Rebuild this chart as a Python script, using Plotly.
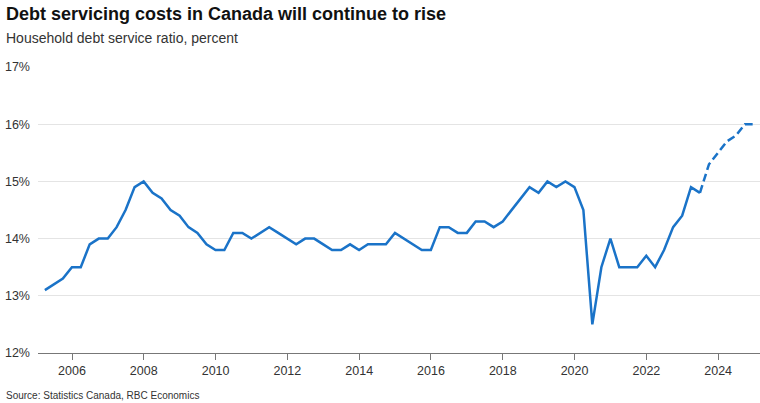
import pandas as pd
import plotly.graph_objects as go

# Household debt service ratio (percent), quarterly, 2005Q1 - 2024Q4
quarters = pd.date_range("2005-03-31", periods=80, freq="QE")

actual_ratio = [
    13.1, 13.2, 13.3, 13.5, 13.5, 13.9, 14.0, 14.0,   # 2005-2006
    14.2, 14.5, 14.9, 15.0, 14.8, 14.7, 14.5, 14.4,   # 2007-2008
    14.2, 14.1, 13.9, 13.8, 13.8, 14.1, 14.1, 14.0,   # 2009-2010
    14.1, 14.2, 14.1, 14.0, 13.9, 14.0, 14.0, 13.9,   # 2011-2012
    13.8, 13.8, 13.9, 13.8, 13.9, 13.9, 13.9, 14.1,   # 2013-2014
    14.0, 13.9, 13.8, 13.8, 14.2, 14.2, 14.1, 14.1,   # 2015-2016
    14.3, 14.3, 14.2, 14.3, 14.5, 14.7, 14.9, 14.8,   # 2017-2018
    15.0, 14.9, 15.0, 14.9, 14.5, 12.5, 13.5, 14.0,   # 2019-2020
    13.5, 13.5, 13.5, 13.7, 13.5, 13.8, 14.2, 14.4,   # 2021-2022
    14.9, 14.8,                                        # 2023H1
]
forecast_ratio = [15.3, 15.5, 15.7, 15.8, 16.0, 16.0]  # 2023Q3 - 2024Q4

year_ticks = list(range(2006, 2025, 2))
y_ticks = [12, 13, 14, 15, 16, 17]

title_text = "<b>Debt servicing costs in Canada will continue to rise</b>"
subtitle_text = "Household debt service ratio, percent"
source_text = "Source: Statistics Canada, RBC Economics"

LINE = "#1a73c8"
FONT = "Liberation Sans, Arial, sans-serif"

n_act = len(actual_ratio)
x_act = quarters[:n_act]
# forecast segment starts from the last actual observation
x_fc = quarters[n_act - 1:n_act + len(forecast_ratio)]
y_fc = [actual_ratio[-1]] + forecast_ratio

fig = go.Figure()
fig.add_trace(go.Scatter(
    x=x_act, y=actual_ratio, mode="lines",
    line=dict(color=LINE, width=2.5), showlegend=False,
))
fig.add_trace(go.Scatter(
    x=x_fc, y=y_fc, mode="lines",
    line=dict(color=LINE, width=2.5, dash="8px,4px"), showlegend=False,
))

L, R, T, B = 38, 0, 67, 50
W, H = 760, 403
ph = H - T - B
pw = W - L - R


def py(ypx):
    return (H - B - ypx) / ph


def px(xpx):
    return (xpx - L) / pw


fig.update_layout(
    width=W, height=H,
    margin=dict(l=L, r=R, t=T, b=B),
    paper_bgcolor="white", plot_bgcolor="white",
    font=dict(family=FONT, color="#333333", size=13),
    xaxis=dict(
        type="date",
        range=["2005-01-20", "2025-03-02"],
        tickvals=[f"{y}-01-01" for y in year_ticks],
        ticktext=[str(y) for y in year_ticks],
        showgrid=False, zeroline=False,
        showline=True, linecolor="#777777", linewidth=1,
        ticks="outside", ticklen=6, tickcolor="#777777", tickwidth=1,
        tickfont=dict(size=12.5, color="#333333"),
    ),
    yaxis=dict(
        range=[12, 17],
        tickvals=y_ticks,
        ticktext=[f"{v}%" for v in y_ticks],
        showgrid=True, gridcolor="#e4e4e4", gridwidth=1,
        zeroline=False, showline=False, ticks="",
        ticklabelstandoff=7,
        tickfont=dict(size=12.5, color="#333333"),
    ),
    annotations=[
        dict(text=title_text, xref="paper", yref="paper",
             x=px(4), y=py(14), xanchor="left", yanchor="middle",
             showarrow=False, font=dict(size=18, color="#111111", family=FONT)),
        dict(text=subtitle_text, xref="paper", yref="paper",
             x=px(4), y=py(38), xanchor="left", yanchor="middle",
             showarrow=False, font=dict(size=14, color="#333333", family=FONT)),
        dict(text=source_text, xref="paper", yref="paper",
             x=px(4), y=py(395), xanchor="left", yanchor="middle",
             showarrow=False, font=dict(size=10, color="#333333", family=FONT)),
    ],
)

fig.write_html("out.html")
